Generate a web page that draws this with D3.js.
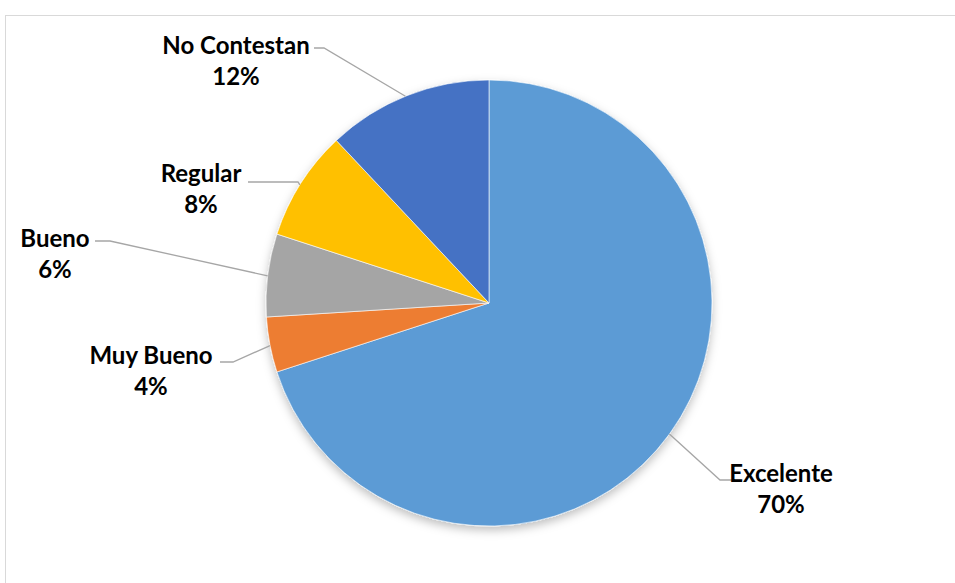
<!DOCTYPE html>
<html>
<head>
<meta charset="utf-8">
<script src="https://cdn.jsdelivr.net/npm/d3@7"></script>
<style>
  html, body { margin: 0; padding: 0; background: #fff; }
  svg { display: block; }
  text { font-family: Lato, "Open Sans", sans-serif; font-weight: bold; fill: #000; }
</style>
</head>
<body>
<svg id="chart" width="955" height="583"></svg>
<script>
// Survey answers and their shares
const categories = ["Excelente", "Muy Bueno", "Bueno", "Regular", "No Contestan"];
const values = [70, 4, 6, 8, 12];
const colors = ["#5B9BD5", "#ED7D31", "#A5A5A5", "#FFC000", "#4472C4"];

// Label placement: text centre (x, first baseline y), elbow end of the leader,
// and the angle (degrees clockwise from 12 o'clock) where the leader meets the pie
const labelLayout = [
  { x: 781, y: 482, elbowX: 720, elbowY: 480, lineStartX: 735, angle: 126 },
  { x: 151, y: 364, elbowX: 233, elbowY: 362, lineStartX: 220, angle: 259 },
  { x: 55,  y: 247, elbowX: 110, elbowY: 241, lineStartX: 95,  angle: 277 },
  { x: 201, y: 182, elbowX: 298, elbowY: 182, lineStartX: 248, angle: 302 },
  { x: 236, y: 54,  elbowX: 324, elbowY: 48,  lineStartX: 314, angle: 338 }
];

const svg = d3.select("#chart");
const cx = 489, cy = 303, radius = 223;

// Chart area frame
svg.append("rect")
  .attr("x", 5.5).attr("y", 15.5)
  .attr("width", 1000).attr("height", 600)
  .attr("fill", "#fff")
  .attr("stroke", "#d9d9d9").attr("stroke-width", 1);

const defs = svg.append("defs");
const shadow = defs.append("filter").attr("id", "pieShadow")
  .attr("x", "-20%").attr("y", "-20%").attr("width", "140%").attr("height", "140%");
shadow.append("feDropShadow")
  .attr("dx", 0).attr("dy", 4).attr("stdDeviation", 5)
  .attr("flood-color", "#000").attr("flood-opacity", 0.25);

const data = categories.map((c, i) => ({ category: c, value: values[i], color: colors[i] }));

const pie = d3.pie().value(d => d.value).sort(null);
const arc = d3.arc().innerRadius(0).outerRadius(radius);
const arcs = pie(data);

const g = svg.append("g").attr("transform", `translate(${cx},${cy})`);

g.append("g").attr("filter", "url(#pieShadow)")
  .selectAll("path")
  .data(arcs)
  .join("path")
  .attr("d", arc)
  .attr("fill", d => d.data.color)
  .attr("stroke", "#fff")
  .attr("stroke-width", 0.6);

// Leader lines
const leaders = svg.append("g")
  .attr("fill", "none").attr("stroke", "#a6a6a6").attr("stroke-width", 1.3);

arcs.forEach((a, i) => {
  const L = labelLayout[i];
  const t = L.angle * Math.PI / 180;
  const px = cx + radius * Math.sin(t);
  const py = cy - radius * Math.cos(t);
  leaders.append("polyline")
    .attr("points", `${L.lineStartX},${L.elbowY} ${L.elbowX},${L.elbowY} ${px},${py}`);
});

// Labels: category name and percentage
const labels = svg.append("g");
arcs.forEach((a, i) => {
  const L = labelLayout[i];
  const t = labels.append("text")
    .attr("text-anchor", "middle")
    .attr("font-size", 24);
  t.append("tspan").attr("x", L.x).attr("y", L.y).text(a.data.category);
  t.append("tspan").attr("x", L.x).attr("dy", 31).text(a.data.value + "%");
});
</script>
</body>
</html>
